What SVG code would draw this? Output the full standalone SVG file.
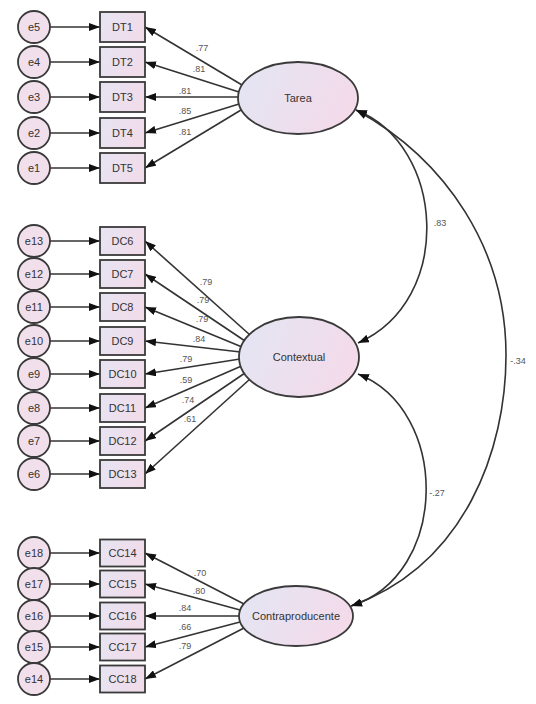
<svg xmlns="http://www.w3.org/2000/svg" width="536" height="704" viewBox="0 0 536 704">
<defs>
<linearGradient id="gl" x1="0" y1="0" x2="1" y2="0.3"><stop offset="0" stop-color="#e3e6f4"/><stop offset="1" stop-color="#f3dbea"/></linearGradient>
<linearGradient id="gb" x1="0" y1="0" x2="1" y2="0.3"><stop offset="0" stop-color="#e6e4f3"/><stop offset="1" stop-color="#f1dcea"/></linearGradient>
<marker id="ah" markerUnits="userSpaceOnUse" markerWidth="12" markerHeight="8" refX="11" refY="4" orient="auto-start-reverse"><path d="M0,0 L11,4 L0,8 z" fill="#111"/></marker>
</defs>
<style>
.err{fill:#f1e0ec;stroke:#3a3a3a;stroke-width:1.8}
.box{fill:url(#gb);stroke:#3a3a3a;stroke-width:1.8}
.lat{fill:url(#gl);stroke:#3a3a3a;stroke-width:1.8}
.t{font-family:"Liberation Sans",Arial,sans-serif;font-size:11px;fill:#333;text-anchor:middle;dominant-baseline:central}
.lb{font-family:"Liberation Sans",Arial,sans-serif;font-size:9px;fill:#555;text-anchor:middle;dominant-baseline:central}
.c{fill:none;stroke:#333;stroke-width:1.6;marker-end:url(#ah)}
.cc{fill:none;stroke:#333;stroke-width:1.6;marker-start:url(#ah);marker-end:url(#ah)}
</style>
<rect width="536" height="704" fill="#fff"/>
<g id="connectors">
<!-- error arrows -->
<path class="c" d="M50,27H100"/><path class="c" d="M50,62H100"/><path class="c" d="M50,97H100"/><path class="c" d="M50,133H100"/><path class="c" d="M50,168H100"/>
<path class="c" d="M50,241H100"/><path class="c" d="M50,274H100"/><path class="c" d="M50,307H100"/><path class="c" d="M50,341H100"/><path class="c" d="M50,374H100"/><path class="c" d="M50,408H100"/><path class="c" d="M50,441H100"/><path class="c" d="M50,474H100"/>
<path class="c" d="M50,553H100"/><path class="c" d="M50,584H100"/><path class="c" d="M50,616H100"/><path class="c" d="M50,647H100"/><path class="c" d="M50,679H100"/>
<!-- Tarea loadings -->
<path class="c" d="M242,85L145,27"/><path class="c" d="M239,92L145,62"/><path class="c" d="M238,97L145,97"/><path class="c" d="M239,104L145,133"/><path class="c" d="M241,110L145,168"/>
<!-- Contextual loadings -->
<path class="c" d="M250,335L145,241"/><path class="c" d="M245,341L145,274"/><path class="c" d="M242,347L145,307"/><path class="c" d="M240.5,352L145,341"/><path class="c" d="M240,359L145,374"/><path class="c" d="M241.5,366L145,408"/><path class="c" d="M245,373L145,441"/><path class="c" d="M250,379L145,474"/>
<!-- Contraproducente loadings -->
<path class="c" d="M244,604L145,553"/><path class="c" d="M240,610L145,584"/><path class="c" d="M239,616L145,616"/><path class="c" d="M240,622L145,647"/><path class="c" d="M244,628L145,679"/>
<!-- covariances -->
<path class="cc" d="M356,110C445,145 455,300 358,343"/>
<path class="cc" d="M356,110C447,160 506,250 506,355C506,450 465,565 351,606"/>
<path class="cc" d="M358,374C450,410 450,575 351,606"/>
<!-- labels -->
<text class="lb" x="202" y="48">.77</text><text class="lb" x="199" y="69">.81</text><text class="lb" x="185" y="91">.81</text><text class="lb" x="185" y="111">.85</text><text class="lb" x="185" y="132">.81</text>
<text class="lb" x="206" y="282">.79</text><text class="lb" x="203" y="300">.79</text><text class="lb" x="202" y="319">.79</text><text class="lb" x="199" y="339">.84</text><text class="lb" x="186" y="359">.79</text><text class="lb" x="186" y="380">.59</text><text class="lb" x="188" y="400">.74</text><text class="lb" x="190" y="419">.61</text>
<text class="lb" x="200" y="573">.70</text><text class="lb" x="199" y="591">.80</text><text class="lb" x="185" y="608">.84</text><text class="lb" x="185" y="627">.66</text><text class="lb" x="185" y="646">.79</text>
<text class="lb" x="440" y="223">.83</text><text class="lb" x="437" y="493">-.27</text><text class="lb" x="518" y="361">-.34</text>
</g>
<g id="Tarea"><ellipse class="lat" cx="298" cy="98" rx="60" ry="36"/><text class="t" x="298" y="98">Tarea</text></g>
<g id="Contextual"><ellipse class="lat" cx="299" cy="357" rx="60" ry="40"/><text class="t" x="299" y="357">Contextual</text></g>
<g id="Contraproducente"><ellipse class="lat" cx="296" cy="616" rx="57" ry="30"/><text class="t" x="296" y="616">Contraproducente</text></g>
<g id="e5"><circle class="err" cx="34" cy="27" r="16"/><text class="t" x="34" y="27">e5</text></g>
<g id="e4"><circle class="err" cx="34" cy="62" r="16"/><text class="t" x="34" y="62">e4</text></g>
<g id="e3"><circle class="err" cx="34" cy="97" r="16"/><text class="t" x="34" y="97">e3</text></g>
<g id="e2"><circle class="err" cx="34" cy="133" r="16"/><text class="t" x="34" y="133">e2</text></g>
<g id="e1"><circle class="err" cx="34" cy="168" r="16"/><text class="t" x="34" y="168">e1</text></g>
<g id="DT1"><rect class="box" x="100" y="12" width="45" height="30"/><text class="t" x="122.5" y="27">DT1</text></g>
<g id="DT2"><rect class="box" x="100" y="47" width="45" height="30"/><text class="t" x="122.5" y="62">DT2</text></g>
<g id="DT3"><rect class="box" x="100" y="82" width="45" height="30"/><text class="t" x="122.5" y="97">DT3</text></g>
<g id="DT4"><rect class="box" x="100" y="118" width="45" height="30"/><text class="t" x="122.5" y="133">DT4</text></g>
<g id="DT5"><rect class="box" x="100" y="153" width="45" height="30"/><text class="t" x="122.5" y="168">DT5</text></g>
<g id="e13"><circle class="err" cx="34" cy="241" r="16"/><text class="t" x="34" y="241">e13</text></g>
<g id="e12"><circle class="err" cx="34" cy="274" r="16"/><text class="t" x="34" y="274">e12</text></g>
<g id="e11"><circle class="err" cx="34" cy="307" r="16"/><text class="t" x="34" y="307">e11</text></g>
<g id="e10"><circle class="err" cx="34" cy="341" r="16"/><text class="t" x="34" y="341">e10</text></g>
<g id="e9"><circle class="err" cx="34" cy="374" r="16"/><text class="t" x="34" y="374">e9</text></g>
<g id="e8"><circle class="err" cx="34" cy="408" r="16"/><text class="t" x="34" y="408">e8</text></g>
<g id="e7"><circle class="err" cx="34" cy="441" r="16"/><text class="t" x="34" y="441">e7</text></g>
<g id="e6"><circle class="err" cx="34" cy="474" r="16"/><text class="t" x="34" y="474">e6</text></g>
<g id="DC6"><rect class="box" x="100" y="227" width="45" height="28"/><text class="t" x="122.5" y="241">DC6</text></g>
<g id="DC7"><rect class="box" x="100" y="260" width="45" height="28"/><text class="t" x="122.5" y="274">DC7</text></g>
<g id="DC8"><rect class="box" x="100" y="293" width="45" height="28"/><text class="t" x="122.5" y="307">DC8</text></g>
<g id="DC9"><rect class="box" x="100" y="327" width="45" height="28"/><text class="t" x="122.5" y="341">DC9</text></g>
<g id="DC10"><rect class="box" x="100" y="360" width="45" height="28"/><text class="t" x="122.5" y="374">DC10</text></g>
<g id="DC11"><rect class="box" x="100" y="394" width="45" height="28"/><text class="t" x="122.5" y="408">DC11</text></g>
<g id="DC12"><rect class="box" x="100" y="427" width="45" height="28"/><text class="t" x="122.5" y="441">DC12</text></g>
<g id="DC13"><rect class="box" x="100" y="460" width="45" height="28"/><text class="t" x="122.5" y="474">DC13</text></g>
<g id="e18"><circle class="err" cx="34" cy="553" r="16"/><text class="t" x="34" y="553">e18</text></g>
<g id="e17"><circle class="err" cx="34" cy="584" r="16"/><text class="t" x="34" y="584">e17</text></g>
<g id="e16"><circle class="err" cx="34" cy="616" r="16"/><text class="t" x="34" y="616">e16</text></g>
<g id="e15"><circle class="err" cx="34" cy="647" r="16"/><text class="t" x="34" y="647">e15</text></g>
<g id="e14"><circle class="err" cx="34" cy="679" r="16"/><text class="t" x="34" y="679">e14</text></g>
<g id="CC14"><rect class="box" x="100" y="539.5" width="45" height="27"/><text class="t" x="122.5" y="553">CC14</text></g>
<g id="CC15"><rect class="box" x="100" y="570.5" width="45" height="27"/><text class="t" x="122.5" y="584">CC15</text></g>
<g id="CC16"><rect class="box" x="100" y="602.5" width="45" height="27"/><text class="t" x="122.5" y="616">CC16</text></g>
<g id="CC17"><rect class="box" x="100" y="633.5" width="45" height="27"/><text class="t" x="122.5" y="647">CC17</text></g>
<g id="CC18"><rect class="box" x="100" y="665.5" width="45" height="27"/><text class="t" x="122.5" y="679">CC18</text></g>
</svg>
